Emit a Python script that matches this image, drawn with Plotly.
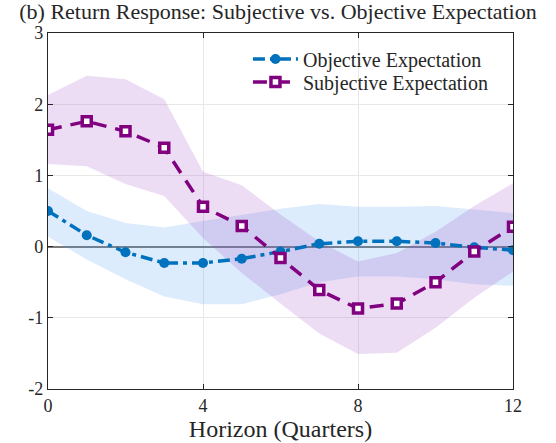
import plotly.graph_objects as go

horizon = list(range(13))
obj_mean = [0.50, 0.16, -0.08, -0.23, -0.23, -0.17, -0.07, 0.04, 0.075, 0.075, 0.05, -0.01, -0.05]
obj_upper = [0.82, 0.50, 0.33, 0.27, 0.36, 0.45, 0.53, 0.60, 0.56, 0.56, 0.57, 0.52, 0.47]
obj_lower = [0.14, -0.18, -0.46, -0.70, -0.81, -0.81, -0.67, -0.50, -0.42, -0.42, -0.46, -0.53, -0.55]

subj_mean = [1.64, 1.76, 1.62, 1.39, 0.56, 0.29, -0.16, -0.61, -0.87, -0.80, -0.50, -0.07, 0.28]
subj_upper = [2.13, 2.40, 2.35, 2.07, 1.05, 0.86, 0.45, 0.07, -0.21, -0.09, 0.21, 0.57, 0.89]
subj_lower = [1.16, 1.13, 0.88, 0.71, 0.12, -0.37, -0.80, -1.22, -1.51, -1.49, -1.14, -0.72, -0.35]

x_ticks = [0, 4, 8, 12]
y_ticks = [-2, -1, 0, 1, 2, 3]
y_ticklabels = ["-2", "-1", "0", "1", "2", "3"]

BLUE = "#0072BD"
PURPLE = "#800080"
FONT = "Liberation Serif"
TXT = "#262626"

fig = go.Figure()

# bands
fig.add_trace(go.Scatter(x=horizon, y=obj_upper, mode="lines", line=dict(width=0),
                         showlegend=False, hoverinfo="skip"))
fig.add_trace(go.Scatter(x=horizon, y=obj_lower, mode="lines", line=dict(width=0),
                         fill="tonexty", fillcolor="rgba(80,160,240,0.2)",
                         showlegend=False, hoverinfo="skip"))
fig.add_trace(go.Scatter(x=horizon, y=subj_upper, mode="lines", line=dict(width=0),
                         showlegend=False, hoverinfo="skip"))
fig.add_trace(go.Scatter(x=horizon, y=subj_lower, mode="lines", line=dict(width=0),
                         fill="tonexty", fillcolor="rgba(160,80,200,0.2)",
                         showlegend=False, hoverinfo="skip"))

fig.add_trace(go.Scatter(x=horizon, y=obj_mean, mode="lines+markers",
                         name="Objective Expectation", legend="legend",
                         line=dict(color=BLUE, width=3.5, dash="12px,5px,4px,5px"),
                         marker=dict(symbol="circle", size=10, color=BLUE)))
fig.add_trace(go.Scatter(x=horizon, y=subj_mean, mode="lines+markers",
                         name="Subjective Expectation", legend="legend2",
                         line=dict(color=PURPLE, width=3.5, dash="14px,9px"),
                         marker=dict(symbol="square", size=9, color="white",
                                     line=dict(color=PURPLE, width=3.5))))

axis_common = dict(showline=True, linecolor=TXT, linewidth=1.2, mirror="ticks",
                   ticks="inside", ticklen=5, tickcolor=TXT,
                   showgrid=True, gridcolor="#e8e8e8", gridwidth=1,
                   automargin=False,
                   tickfont=dict(family=FONT, size=18, color=TXT))

fig.update_xaxes(range=[0, 12], tickvals=x_ticks, zeroline=False,
                 title=dict(text="Horizon (Quarters)", font=dict(family=FONT, size=24, color=TXT),
                            standoff=4),
                 **axis_common)
fig.update_yaxes(range=[-2, 3], tickvals=y_ticks, ticktext=y_ticklabels,
                 zeroline=True, zerolinecolor="#7a7a7a", zerolinewidth=1.6,
                 **axis_common)

legend_common = dict(x=0.43, xanchor="left", yanchor="middle",
                     bgcolor="rgba(0,0,0,0)", borderwidth=0,
                     font=dict(family=FONT, size=20, color=TXT), itemwidth=45)

fig.update_layout(
    width=556, height=443,
    margin=dict(l=48, r=43, t=33, b=54),
    paper_bgcolor="white", plot_bgcolor="white",
    title=dict(text="(b) Return Response: Subjective vs. Objective Expectation",
               x=0.5, xanchor="center", y=1 - 11 / 443, yanchor="middle",
               font=dict(family=FONT, size=22, color=TXT)),
    legend=dict(y=1 - (59 - 33) / 356, **legend_common),
    legend2=dict(y=1 - (82 - 33) / 356, **legend_common),
    showlegend=True,
)

fig.write_html("out.html", config={"displayModeBar": False},
               post_script="document.body.style.margin='0';")
